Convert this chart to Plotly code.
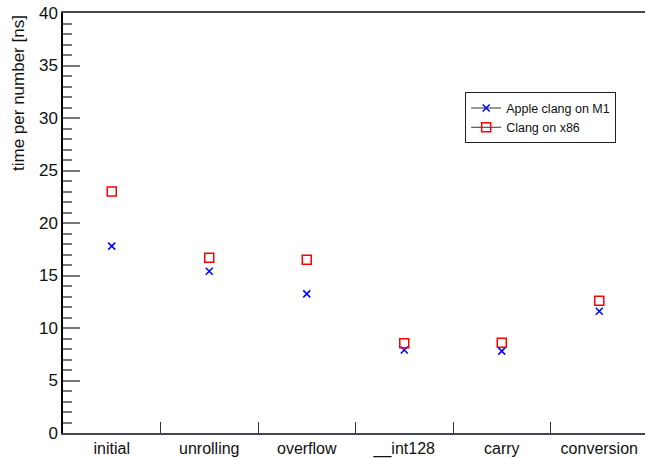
import plotly.graph_objects as go

categories = ["initial", "unrolling", "overflow", "__int128", "carry", "conversion"]
apple_m1 = [17.8, 15.4, 13.25, 7.9, 7.8, 11.6]
clang_x86 = [23.0, 16.7, 16.5, 8.55, 8.6, 12.6]
y_ticks = [0, 5, 10, 15, 20, 25, 30, 35, 40]


def gapped(cats, vals):
    xs, ys = [], []
    for c, v in zip(cats, vals):
        xs += [c, c]
        ys += [v, None]
    return xs, ys


fig = go.Figure()
x1, y1 = gapped(categories, apple_m1)
fig.add_trace(go.Scatter(
    x=x1, y=y1, mode="lines+markers", name="Apple clang on M1",
    connectgaps=False,
    line=dict(color="#333333", width=1),
    marker=dict(symbol="x-thin-open", size=7, color="#0000ff",
                line=dict(color="#0000ff", width=1.5)),
))
x2, y2 = gapped(categories, clang_x86)
fig.add_trace(go.Scatter(
    x=x2, y=y2, mode="lines+markers", name="Clang on x86",
    connectgaps=False,
    line=dict(color="#333333", width=1),
    marker=dict(symbol="square-open", size=9, color="#ff0000",
                line=dict(color="#ff0000", width=1.5)),
))

font_family = "Liberation Sans, Arial, sans-serif"

fig.update_layout(
    width=645, height=458,
    margin=dict(l=63, r=0, t=13, b=21),
    paper_bgcolor="white", plot_bgcolor="white",
    font=dict(family=font_family, color="#111111"),
    showlegend=True,
    legend=dict(
        x=0.691, y=0.811, xanchor="left", yanchor="top",
        bgcolor="white", bordercolor="#222222", borderwidth=1,
        font=dict(size=12.5, family=font_family, color="#111111"),
        tracegroupgap=4,
    ),
    xaxis=dict(
        type="category",
        categoryorder="array", categoryarray=categories,
        range=[-0.5, 5.469],
        tickson="boundaries",
        ticks="inside", ticklen=11, tickwidth=1, tickcolor="#333333",
        showline=True, linecolor="#444455", linewidth=1.5,
        mirror=True,
        showgrid=False, zeroline=False,
        tickfont=dict(size=16, family=font_family, color="#111111"),
        fixedrange=True,
    ),
    yaxis=dict(
        range=[0, 40],
        tickvals=y_ticks,
        ticks="inside", ticklen=17, tickwidth=1.5, tickcolor="#777777",
        minor=dict(ticks="inside", ticklen=9, dtick=1, tickwidth=1.5,
                   tickcolor="#777777", showgrid=False),
        showline=True, linecolor="#000000", linewidth=1.5,
        showgrid=False, zeroline=False,
        tickfont=dict(size=17, family=font_family, color="#111111"),
        ticklabelstandoff=0,
        fixedrange=True,
    ),
    annotations=[dict(
        text="time per number [ns]",
        xref="paper", yref="paper", x=0, y=1,
        xshift=-45, yshift=0,
        xanchor="center", yanchor="top",
        textangle=-90, showarrow=False,
        font=dict(size=17, family=font_family, color="#111111"),
    )],
)

fig.write_html(
    "out.html",
    config={"displayModeBar": False},
    post_script="document.body.style.margin='0';document.body.style.overflow='hidden';",
)
